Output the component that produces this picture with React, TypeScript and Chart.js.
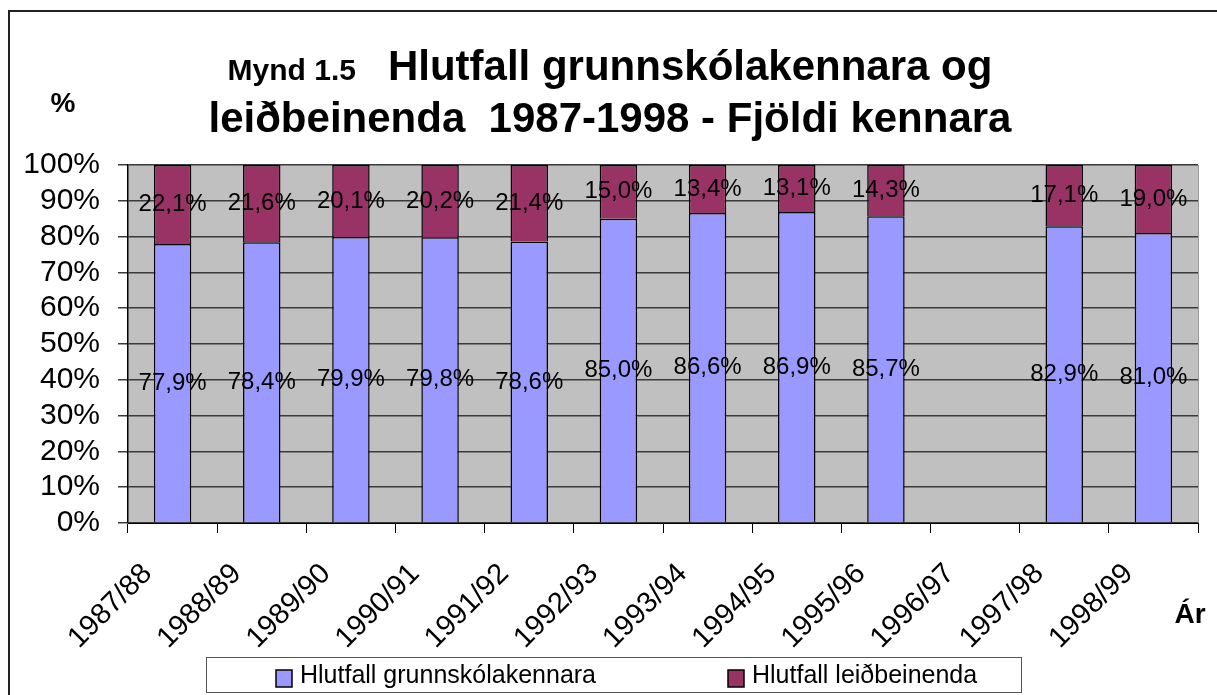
import React, { useEffect, useRef } from 'react';
import { Chart, registerables } from 'chart.js';

Chart.register(...registerables);

const categories = ['1987/88', '1988/89', '1989/90', '1990/91', '1991/92', '1992/93', '1993/94', '1994/95', '1995/96', '1996/97', '1997/98', '1998/99'];
const teachersShare = [77.9, 78.4, 79.9, 79.8, 78.6, 85.0, 86.6, 86.9, 85.7, null, 82.9, 81.0];
const instructorsShare = [22.1, 21.6, 20.1, 20.2, 21.4, 15.0, 13.4, 13.1, 14.3, null, 17.1, 19.0];
const seriesNames = ['Hlutfall grunnskólakennara', 'Hlutfall leiðbeinenda'];
const seriesColors = ['#9999FF', '#993366'];
const titleSmall = 'Mynd 1.5';
const titleLine1 = 'Hlutfall grunnskólakennara og';
const titleLine2 = 'leiðbeinenda  1987-1998 - Fjöldi kennara';
const yAxisTitle = '%';
const xAxisTitle = 'Ár';

const FONT = '"Liberation Sans", Arial, sans-serif';

const fmt = (v: number) => v.toFixed(1).replace('.', ',') + '%';

const decorPlugin = {
  id: 'decor',
  beforeDraw(chart: any) {
    const { ctx, chartArea, width, height } = chart;
    ctx.save();
    ctx.fillStyle = '#fff';
    ctx.fillRect(0, 0, width, height);
    // outer frame
    ctx.strokeStyle = '#222';
    ctx.lineWidth = 2;
    ctx.beginPath();
    ctx.moveTo(9, height + 5);
    ctx.lineTo(9, 11);
    ctx.lineTo(width + 5, 11);
    ctx.stroke();
    // plot area
    ctx.fillStyle = '#C0C0C0';
    ctx.fillRect(chartArea.left, chartArea.top, chartArea.right - chartArea.left, chartArea.bottom - chartArea.top);
    ctx.strokeStyle = '#999';
    ctx.lineWidth = 1;
    ctx.beginPath();
    ctx.moveTo(chartArea.right + 0.5, chartArea.top);
    ctx.lineTo(chartArea.right + 0.5, chartArea.bottom);
    ctx.stroke();
    ctx.restore();
  },
  afterDatasetsDraw(chart: any) {
    const { ctx } = chart;
    ctx.save();
    ctx.fillStyle = '#000';
    ctx.font = `24px ${FONT}`;
    ctx.textAlign = 'center';
    ctx.textBaseline = 'middle';
    chart.data.datasets.forEach((ds: any, di: number) => {
      const meta = chart.getDatasetMeta(di);
      meta.data.forEach((el: any, i: number) => {
        const v = ds.data[i];
        if (v === null || v === undefined) return;
        const c = el.getCenterPoint();
        ctx.fillText(fmt(v), c.x, c.y);
      });
    });
    ctx.restore();
  },
  afterDraw(chart: any) {
    const { ctx } = chart;
    ctx.save();
    ctx.fillStyle = '#000';
    ctx.textBaseline = 'alphabetic';
    // title
    ctx.font = `bold 30px ${FONT}`;
    const wSmall = ctx.measureText(titleSmall).width;
    ctx.font = `bold 42px ${FONT}`;
    const w1 = ctx.measureText(titleLine1).width;
    const w2 = ctx.measureText(titleLine2).width;
    const gap = 32;
    const cx = 610;
    const start1 = cx - (wSmall + gap + w1) / 2;
    ctx.textAlign = 'left';
    ctx.font = `bold 30px ${FONT}`;
    ctx.fillText(titleSmall, start1, 80);
    ctx.font = `bold 42px ${FONT}`;
    ctx.fillText(titleLine1, start1 + wSmall + gap, 80);
    ctx.fillText(titleLine2, cx - w2 / 2, 132);
    // axis titles
    ctx.textAlign = 'center';
    ctx.textBaseline = 'middle';
    ctx.font = `bold 28px ${FONT}`;
    ctx.fillText(yAxisTitle, 63, 104);
    ctx.fillText(xAxisTitle, 1190, 615);
    // legend
    const lx = 206.5, ly = 657.5, lw = 815, lh = 35;
    ctx.strokeStyle = '#555';
    ctx.lineWidth = 1;
    ctx.fillStyle = '#fff';
    ctx.fillRect(lx, ly, lw, lh);
    ctx.strokeRect(lx, ly, lw, lh);
    ctx.font = `25px ${FONT}`;
    ctx.textAlign = 'left';
    ctx.textBaseline = 'middle';
    const items = [
      { x: 276, text: seriesNames[0], color: seriesColors[0] },
      { x: 728, text: seriesNames[1], color: seriesColors[1] },
    ];
    items.forEach((it) => {
      ctx.fillStyle = it.color;
      ctx.fillRect(it.x, 670, 16, 17);
      ctx.strokeStyle = '#000';
      ctx.lineWidth = 1.5;
      ctx.strokeRect(it.x, 670, 16, 17);
      ctx.fillStyle = '#000';
      ctx.fillText(it.text, it.x + 24, 676);
    });
    ctx.restore();
  },
};

export default function App() {
  const ref = useRef<HTMLCanvasElement>(null);
  useEffect(() => {
    if (!ref.current) return;
    const chart = new Chart(ref.current, {
      type: 'bar',
      data: {
        labels: categories,
        datasets: [
          {
            label: seriesNames[0],
            data: teachersShare,
            backgroundColor: seriesColors[0],
            borderColor: '#000',
            borderWidth: 1.5,
            barPercentage: 0.42,
            categoryPercentage: 1,
          },
          {
            label: seriesNames[1],
            data: instructorsShare,
            backgroundColor: seriesColors[1],
            borderColor: '#000',
            borderWidth: 1.5,
            barPercentage: 0.42,
            categoryPercentage: 1,
          },
        ],
      },
      options: {
        responsive: false,
        animation: false,
        layout: { padding: { left: 0, top: 165, right: 19, bottom: 0 } },
        plugins: {
          legend: { display: false },
          title: { display: false },
          tooltip: { enabled: false },
        },
        scales: {
          x: {
            stacked: true,
            offset: true,
            grid: { offset: true, drawOnChartArea: false, drawTicks: true, tickLength: 10, color: '#000', lineWidth: 1 },
            border: { color: '#000', width: 1 },
            ticks: {
              autoSkip: false,
              maxRotation: 45,
              minRotation: 45,
              font: { size: 29, family: FONT },
              color: '#000',
              padding: 24,
              labelOffset: -25,
            },
            afterFit: (s: any) => { s.height = 172; },
          },
          y: {
            stacked: true,
            min: 0,
            max: 100,
            ticks: {
              stepSize: 10,
              autoSkip: false,
              callback: (v: any) => v + '%',
              font: { size: 30, family: FONT },
              color: '#000',
              padding: 18,
            },
            grid: { color: '#3a3a3a', lineWidth: 1.5, tickLength: 10 },
            border: { color: '#000', width: 1.5 },
            afterFit: (s: any) => { s.width = 128; },
          },
        },
      },
      plugins: [decorPlugin],
    } as any);
    return () => chart.destroy();
  }, []);
  return (
    <div style={{ width: 1217, height: 695, overflow: 'hidden', position: 'relative' }}>
      <style>{`body{margin:0;overflow:hidden;}`}</style>
      <canvas ref={ref} width={1217} height={695} style={{ display: 'block', width: 1217, height: 695 }} />
    </div>
  );
}
